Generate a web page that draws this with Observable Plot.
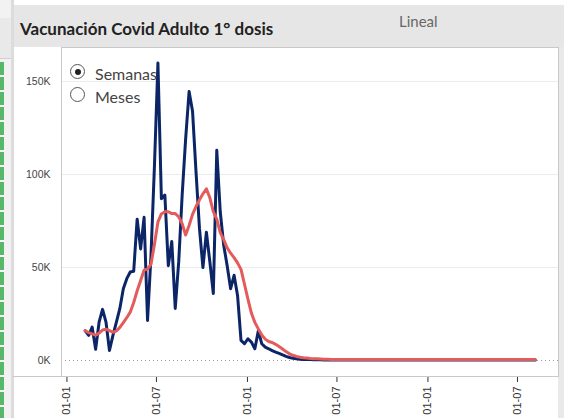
<!DOCTYPE html>
<html>
<head>
<meta charset="utf-8">
<script src="https://cdn.jsdelivr.net/npm/d3@7"></script>
<script src="https://cdn.jsdelivr.net/npm/@observablehq/plot@0.6"></script>
<style>
  html, body { margin: 0; padding: 0; background: #fff; }
  #wrap { position: relative; width: 564px; height: 418px; overflow: hidden; background: #fff; }
  .abs { position: absolute; }
  #title { left: 20px; top: 18px; font: bold 17px Lato, sans-serif; color: #222; white-space: nowrap; }
  #lineal { left: 399px; top: 12px; font: 15px Lato, sans-serif; color: #666; }
  .radio { width: 15px; height: 15px; border: 1px solid #555; border-radius: 50%; background: #fff; box-sizing: border-box; }
  .dot { left: 3.5px; top: 3.5px; width: 6px; height: 6px; border-radius: 50%; background: #222; }
  .rlabel { font: 16px Lato, sans-serif; color: #444; white-space: nowrap; }
  #plot svg { position: absolute; left: 0; top: 0; }
  #plot [aria-label^="y-axis"] text { font-size: 10.5px; fill: #444; }
  #plot [aria-label^="x-axis"] line { stroke: #bbb; }
  #plot [aria-label^="x-axis"] text { fill: #333; }
</style>
</head>
<body>
<div id="wrap">
  <div class="abs" style="left:0;top:0;width:11px;height:418px;background:#f2f2f2"></div>
  <div class="abs" style="left:0;top:18px;width:11px;height:40px;background:#e9e9e9;border-bottom:1px solid #d0d0d0"></div>
  <div class="abs" style="left:0;top:62px;width:4px;height:356px;background:repeating-linear-gradient(to bottom,#58b86a 0 13px,#ffffff 13px 15px)"></div>
  <div class="abs" style="left:11px;top:0;width:3px;height:418px;background:#dcdcdc"></div>
  <div class="abs" style="left:14px;top:5px;width:550px;height:42px;background:#e6e6e6"></div>
  <div class="abs" style="left:558px;top:47px;width:6px;height:371px;background:#e9e9e9"></div>
  <div class="abs" style="left:13px;top:376px;width:50px;height:1px;background:#c9c9c9"></div>
  <div id="title" class="abs">Vacunación Covid Adulto 1° dosis</div>
  <div id="lineal" class="abs">Lineal</div>
  <div id="plot" class="abs" style="left:0;top:0;width:564px;height:418px"></div>
  <div class="abs radio" style="left:70px;top:64px"><div class="abs dot"></div></div>
  <div class="abs rlabel" style="left:95px;top:64px">Semanas</div>
  <div class="abs radio" style="left:70px;top:87px"></div>
  <div class="abs rlabel" style="left:95px;top:87px">Meses</div>
</div>
<script>
// Weekly first-dose counts (thousands), starting week of 2021-02-07
const startDate = "2021-02-07";
const semanal = [16,13.5,18,6,20.6,27.5,20.6,5.4,13.5,20.6,28,38.6,44,47.6,48,76,60,77,21.5,56.6,
  105,160,87,89,51,64,28,53,89,119,144.6,134,101.5,71,50,69,53,36,113,80,62,51,38.6,45.8,35,
  10.8,9,11.7,9.9,6.3,16,9,7.2,6.3,5.3,4.5,3.8,
  3.0,2.2,1.6,1.2,0.9,0.7,0.6,0.5,0.5,0.4,0.4,0.4,0.3,0.4,0.3,0.3,0.4,0.3,0.3,0.3,
  0.4,0.3,0.3,0.3,0.3,0.4,0.3,0.3,0.3,0.3,0.3,0.4,0.3,0.3,0.3,0.3,0.3,0.3,0.4,0.3,
  0.3,0.3,0.3,0.3,0.3,0.4,0.3,0.3,0.3,0.3,0.3,0.3,0.3,0.4,0.3,0.3,0.3,0.3,0.3,0.3,
  0.3,0.3,0.4,0.3,0.3,0.3,0.3,0.3,0.3,0.3,0.3,0.3,0.3,0.3];
// Moving average (thousands)
const promedio = [16,15,14.3,13.6,14.7,16.4,16.8,16.1,15.2,15.9,17.8,20.4,23,26,31.2,37.5,43,48.6,49.2,51.8,
  62.5,74.5,78.8,80,80,79,79,77.3,73.6,67.5,72.6,78.6,82.8,86.4,89.6,92.3,87.5,80,76,68.8,65,60.6,57.7,55.3,52.5,
  49,41,33,25.5,20.5,17,13.7,11.5,10.2,9.7,8.7,7.5,
  6.2,4.8,3.6,2.8,2.2,1.8,1.5,1.3,1.1,1.0,0.9,0.8,0.7,0.7,0.6,0.6,0.5,0.5,0.5,0.5,
  0.5,0.5,0.5,0.5,0.5,0.5,0.5,0.5,0.5,0.5,0.5,0.5,0.5,0.5,0.5,0.5,0.5,0.5,0.5,0.5,
  0.5,0.5,0.5,0.5,0.5,0.5,0.5,0.5,0.5,0.5,0.5,0.5,0.5,0.5,0.5,0.5,0.5,0.5,0.5,0.5,
  0.5,0.5,0.5,0.5,0.5,0.5,0.5,0.5,0.5,0.5,0.5,0.5,0.5,0.5];
const xTicks = ["2021-01-01","2021-07-01","2022-01-01","2022-07-01","2023-01-01","2023-07-01"];
const yTicks = [0, 50000, 100000, 150000];
const xDomain = ["2020-12-21", "2023-09-22"];

const start = new Date(startDate + "T00:00:00Z");
const toRows = arr => arr.map((v, i) => ({date: d3.utcWeek.offset(start, i), value: v * 1000}));
const weekly = toRows(semanal);
const avg = toRows(promedio);
const parse = s => new Date(s + "T00:00:00Z");

const chart = Plot.plot({
  width: 564,
  height: 440,
  marginLeft: 61,
  marginRight: 6,
  marginTop: 47,
  marginBottom: 64,
  style: {background: "transparent", fontFamily: "Liberation Sans, Arial, sans-serif", fontSize: "11px", color: "#333"},
  x: {type: "utc", domain: xDomain.map(parse), ticks: xTicks.map(parse), tickFormat: d3.utcFormat("%d-%m"),
      tickRotate: -90, tickSize: 6, tickPadding: 4, label: null},
  y: {domain: [-8600, 168300], ticks: yTicks, tickFormat: d => (d / 1000) + "K", tickSize: 0, tickPadding: 11, label: null},
  marks: [
    Plot.ruleY(yTicks.filter(d => d > 0), {stroke: "#ececec", strokeWidth: 1}),
    Plot.ruleY([0], {stroke: "#9a9a9a", strokeDasharray: "1,3"}),
    Plot.frame({stroke: "#c9c9c9"}),
    Plot.line(weekly, {x: "date", y: "value", stroke: "#0b2566", strokeWidth: 3}),
    Plot.line(avg, {x: "date", y: "value", stroke: "#e45b5b", strokeWidth: 3})
  ]
});
document.getElementById("plot").appendChild(chart);
</script>
</body>
</html>
